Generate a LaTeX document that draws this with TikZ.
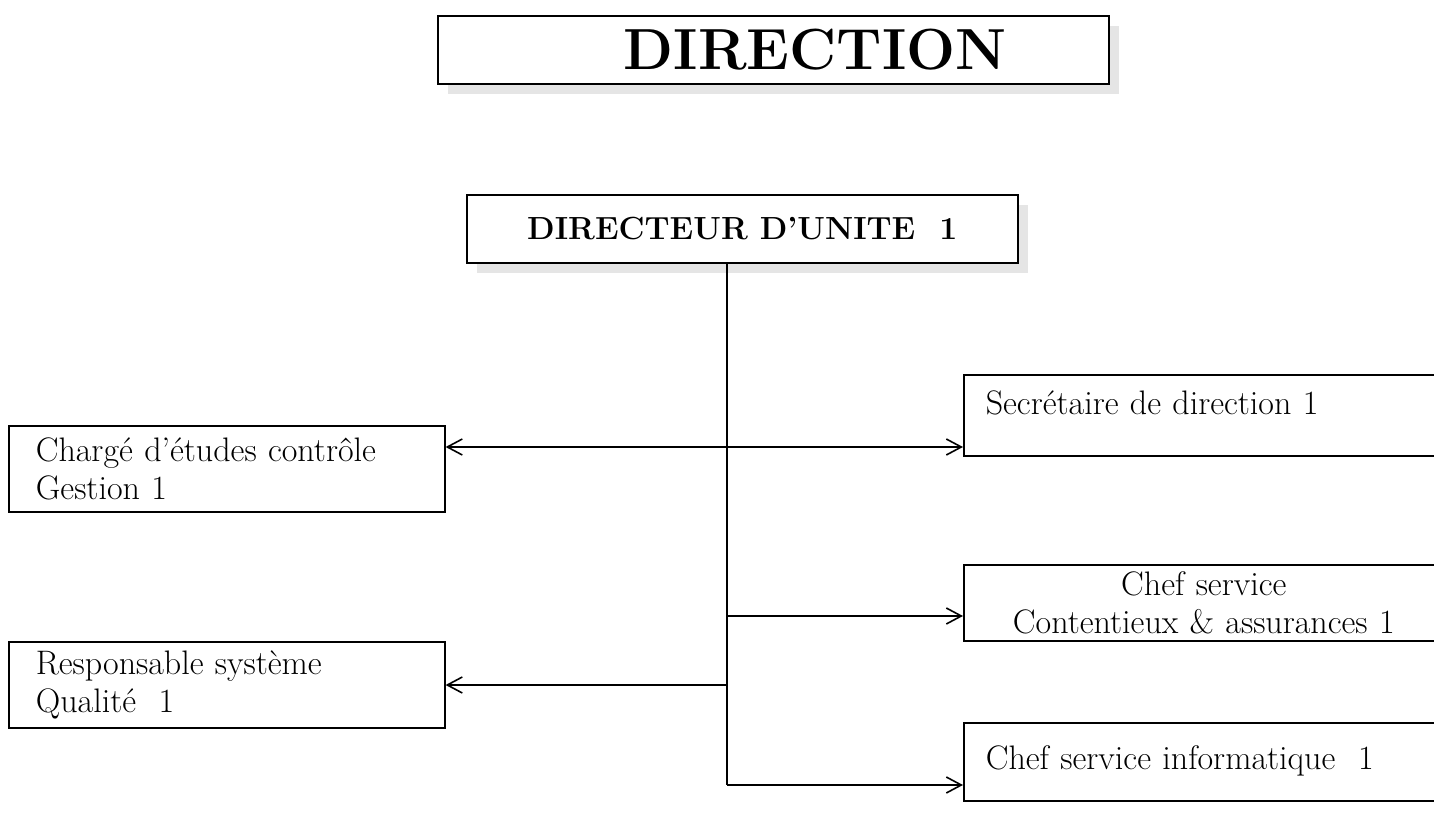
\documentclass[tikz,border=0pt]{standalone}
\usetikzlibrary{arrows.meta,shadows}
\begin{document}
\begin{tikzpicture}[x=1pt,y=-1pt,
  box/.style={draw,line width=1.6pt,anchor=north west,inner ysep=0pt},
  shad/.style={drop shadow={shadow xshift=10pt,shadow yshift=-10pt,fill=gray!20,opacity=1}},
  lbox/.style={box,inner xsep=27pt,text width=382pt,minimum height=86pt,align=left,
    font=\fontsize{34}{38}\selectfont},
  rbox/.style={box,inner xsep=22pt,text width=436pt,align=left,
    font=\fontsize{34}{38}\selectfont},
  link/.style={line width=1.3pt},
  arr/.style={link,-{Straight Barb[length=15pt,width=16pt,line width=1.6pt]}},
  darr/.style={link,{Straight Barb[length=15pt,width=16pt,line width=1.6pt]}-{Straight Barb[length=15pt,width=16pt,line width=1.6pt]}}
]
\useasboundingbox[fill=white] (0,0) rectangle (1434,813);
% top boxes
\node[box,shad,fill=white,minimum width=671pt,minimum height=68pt,inner xsep=0pt,
  font=\fontsize{58}{58}\selectfont\bfseries] (dir) at (437,15) {\hspace*{84pt}DIRECTION};
\node[box,shad,fill=white,minimum width=551pt,minimum height=68pt,inner xsep=0pt,
  font=\fontsize{32}{36}\selectfont\bfseries] (du) at (466,194) {DIRECTEUR D’UNITE\ \ 1};
% left boxes
\node[lbox] (cg) at (8,425) {Chargé d’études contrôle\\Gestion 1};
\node[lbox] (rq) at (8,641) {Responsable système\\Qualité\ \ 1};
% right boxes
\node[rbox,minimum height=81pt] (sd) at (963,374) {Secrétaire de direction 1\\[-12pt]~};
\node[rbox,minimum height=76pt,align=center] (cs) at (963,564) {Chef service\\Contentieux \& assurances 1};
\node[rbox,minimum height=78pt] (ci) at (963,722) {Chef service informatique\ \ 1\\[-30pt]~};
% connectors
\coordinate (top) at (727,262);
\coordinate (bot) at (727,785);
\draw[link] (du.south -| top) -- (bot);
\draw[darr] (cg.east |- 0,447) -- (sd.west |- 0,447);
\draw[arr] (top |- 0,616) -- (cs.west |- 0,616);
\draw[arr] (top |- 0,685) -- (rq.east |- 0,685);
\draw[arr] (bot) -- (ci.west |- bot);
\end{tikzpicture}
\end{document}
